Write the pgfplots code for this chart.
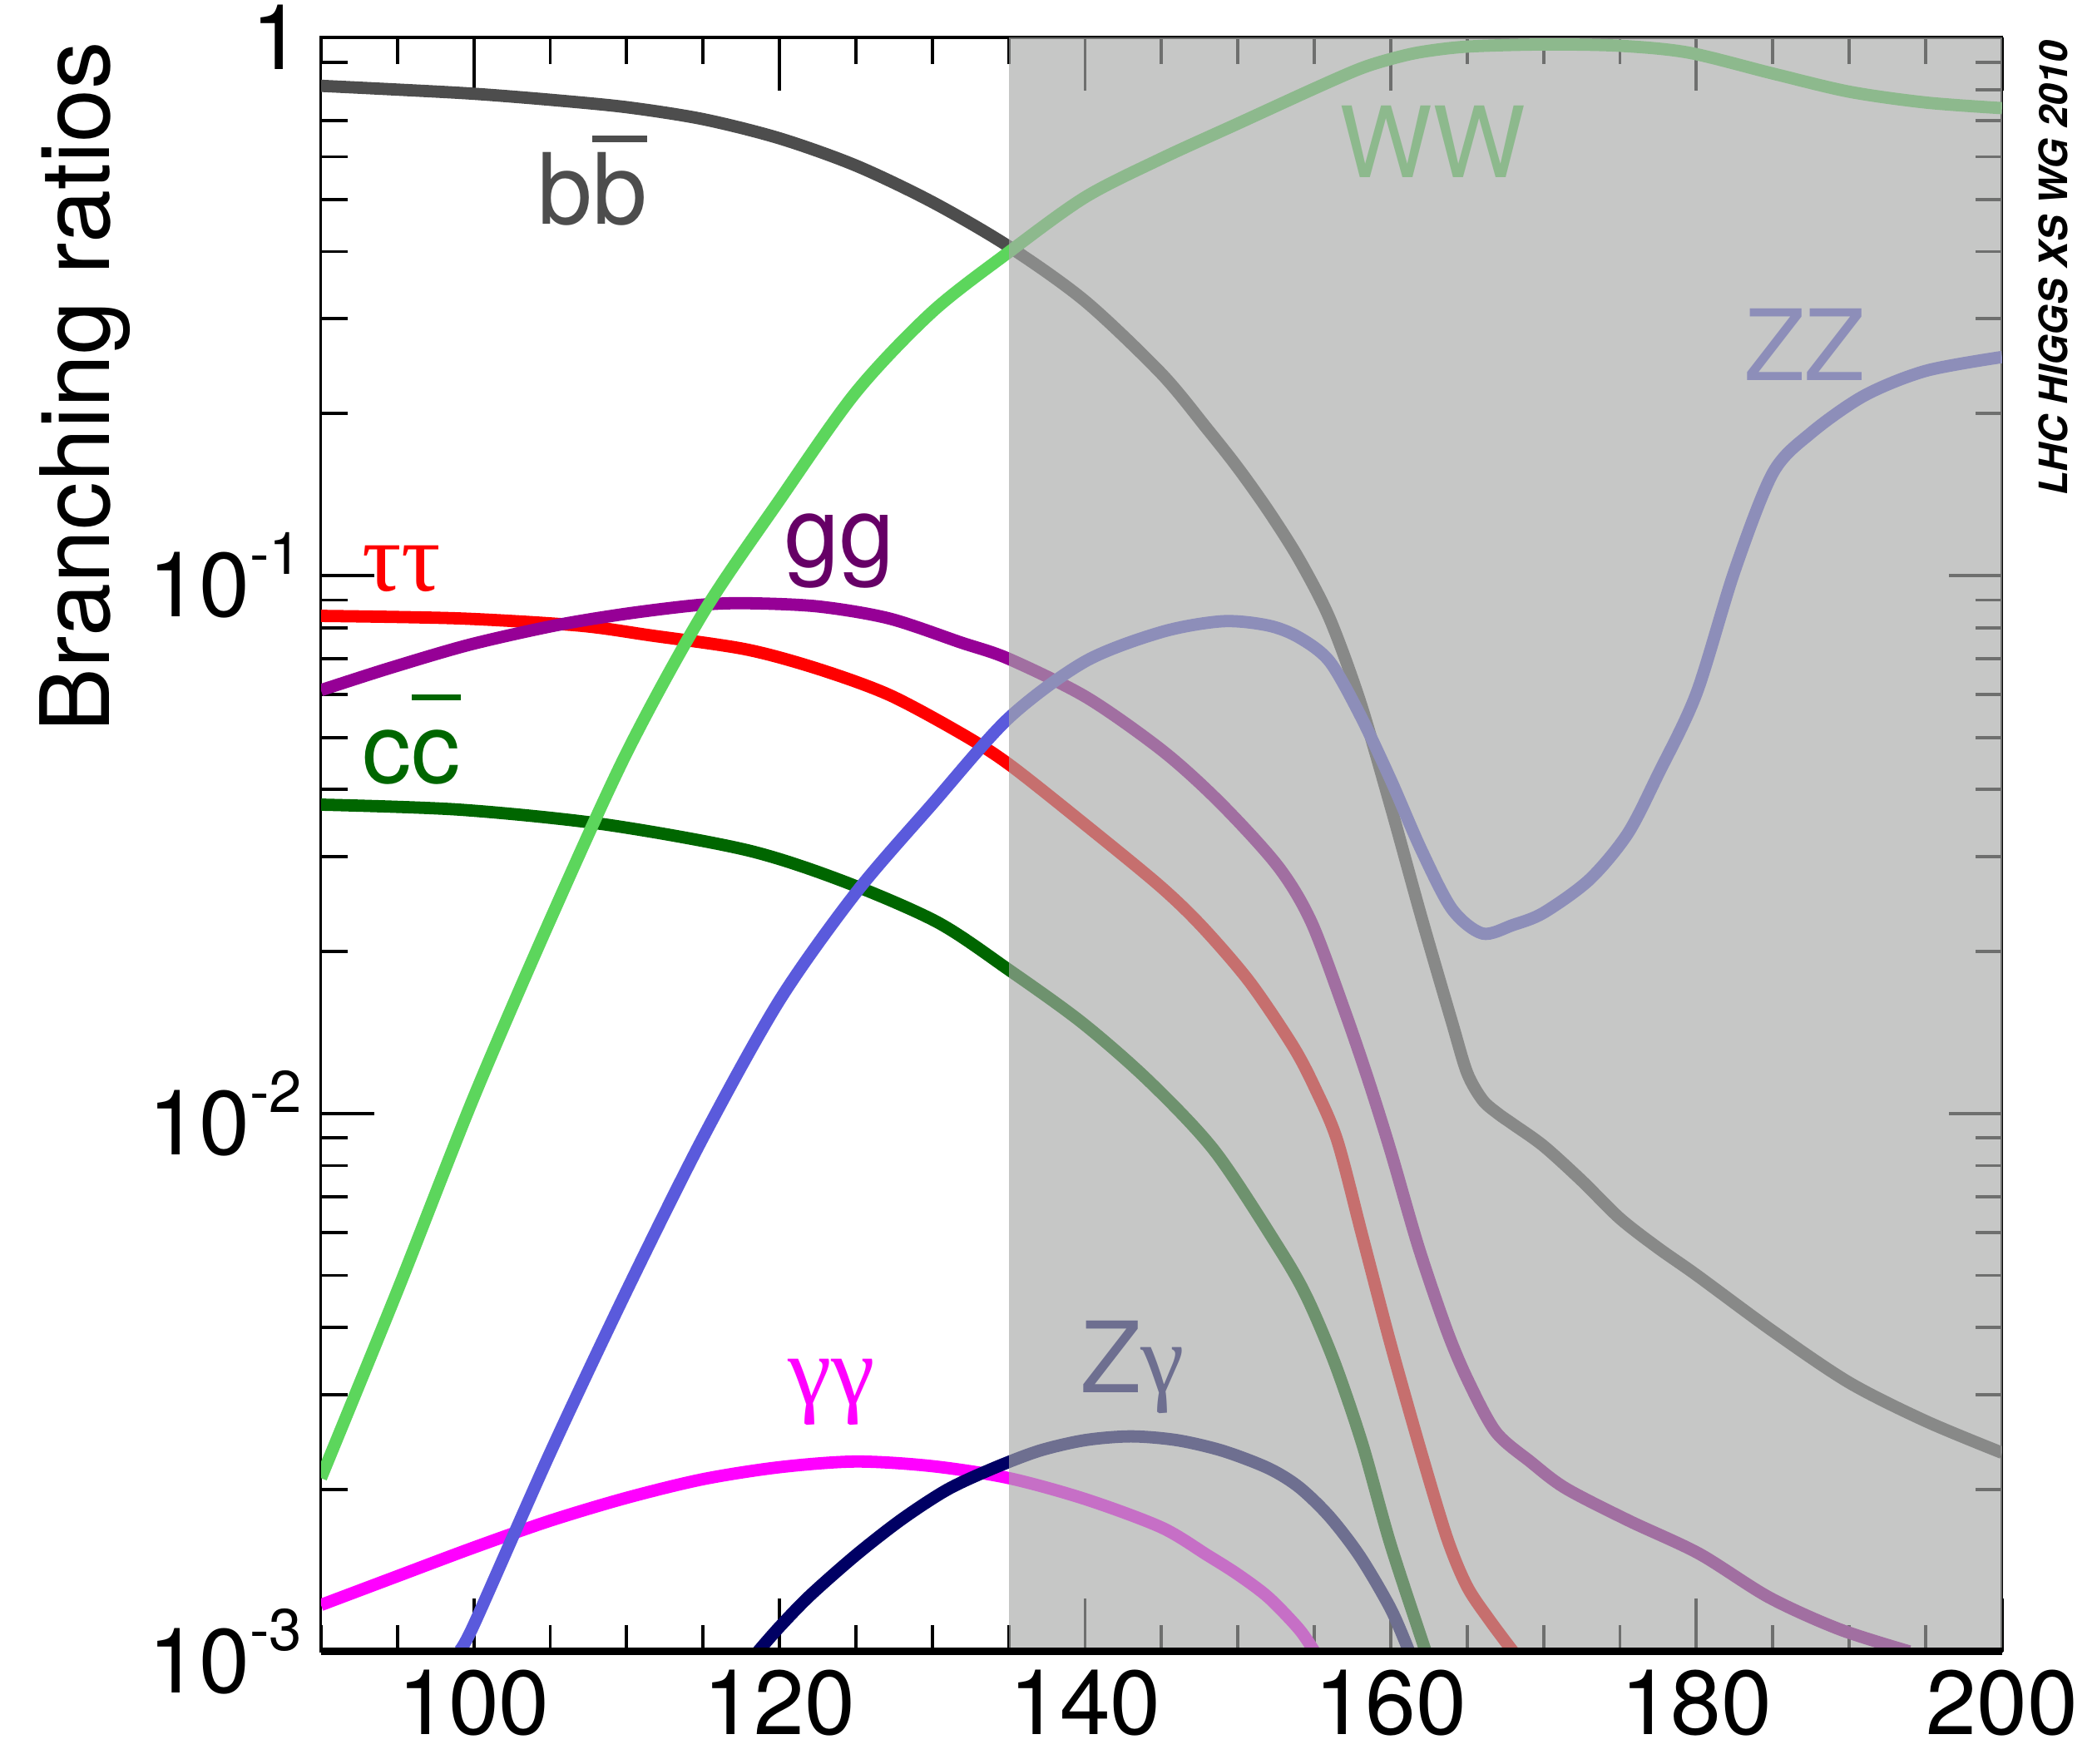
\documentclass[border=0pt]{standalone}
\usepackage{fontspec}
\setmainfont{TeX Gyre Heros}
\newfontfamily\greekfont{Liberation Serif}
\usepackage{pgfplots}
\pgfplotsset{compat=1.18}
\definecolor{cbb}{RGB}{77,77,77}
\definecolor{cww}{RGB}{92,214,92}
\definecolor{czz}{RGB}{90,90,220}
\definecolor{ctt}{RGB}{255,0,0}
\definecolor{cgg}{RGB}{150,0,150}
\definecolor{cgglab}{RGB}{102,0,102}
\definecolor{ccc}{RGB}{0,102,0}
\definecolor{cyy}{RGB}{255,0,255}
\definecolor{czy}{RGB}{0,0,100}
\definecolor{exclgray}{RGB}{168,170,168}
\newcommand\lab{\fontsize{18.4}{20}\selectfont}
\newcommand\tenpow[1]{10\raisebox{0.47em}{\fontsize{11}{11}\selectfont #1}}
\newcommand\ovl[1]{\setbox0\hbox{#1}\rlap{\rule[0.84em]{\wd0}{0.065em}}\box0}
\pgfplotsset{curve/.style={line width=2.3pt, no marks, smooth, tension=0.5}}
\begin{document}
\begin{tikzpicture}
\useasboundingbox (-60pt,-21pt) rectangle (332pt,308.75pt);
\begin{axis}[
  at={(0,0)}, anchor=south west,
  scale only axis, width=314.25pt, height=301.75pt,
  xmin=90, xmax=200, ymin=0.001, ymax=1, ymode=log, log basis y=10,
  xtick={100,120,...,200}, xticklabels={100,120,140,160,180,200},
  minor xtick={90,95,...,200},
  ytick={0.001,0.01,0.1,1}, yticklabels={\tenpow{-3},\tenpow{-2},\tenpow{-1},1},
  minor ytick={0.002,0.003,0.004,0.005,0.006,0.007,0.008,0.009,0.02,0.03,0.04,0.05,0.06,0.07,0.08,0.09,0.2,0.3,0.4,0.5,0.6,0.7,0.8,0.9},
  tick label style={font=\fontsize{17}{20}\selectfont},
  major tick length=10pt, minor tick length=5pt,
  tick style={black, line width=0.6pt},
  axis line style={line width=0.5pt},
  tick align=inside,
]
% b bbar
\addplot[curve, color=cbb] coordinates {(90,0.813)(95,0.800)(100,0.786)(105,0.766)(110,0.742)(115,0.705)(120,0.6495)(125,0.578)(130,0.4945)(135,0.4088)(140,0.3236)(145,0.2371)(148,0.1871)(150,0.1585)(152,0.1318)(154,0.1072)(156,0.0832)(158,0.0582)(160,0.0372)(162,0.0232)(164,0.0148)(165,0.0119)(166,0.0106)(167,0.0100)(168,0.00955)(170,0.0087)(172.5,0.0075)(175,0.00638)(177.5,0.00562)(180,0.00501)(185,0.00394)(190,0.00316)(195,0.00268)(200,0.00234)};
% tau tau
\addplot[curve, color=ctt] coordinates {(90,0.0841)(99.06,0.0832)(106.86,0.0807)(111.55,0.0774)(117.8,0.0729)(122.49,0.0671)(127.17,0.060)(131.86,0.0509)(135,0.0446)(139.8,0.0348)(144.81,0.0266)(147.62,0.0223)(150.74,0.0176)(153.56,0.0134)(155,0.01122)(156.5,0.00891)(158.16,0.00589)(160,0.00372)(162,0.00234)(163.7,0.00162)(165,0.00132)(166.5,0.00114)(168,0.001)};
% gg
\addplot[curve, color=cgg] coordinates {(90,0.0612)(94.37,0.0671)(99.68,0.0743)(105.3,0.0807)(109.99,0.0849)(114.66,0.0881)(117.8,0.0888)(122.49,0.0876)(127.17,0.0832)(131.86,0.0751)(135,0.070)(140.12,0.0593)(145.12,0.0471)(148.88,0.0377)(152.62,0.0288)(154.8,0.0227)(156.99,0.0155)(158.55,0.0115)(160,0.0085)(161.83,0.00563)(163.66,0.00396)(165.03,0.0032)(166.87,0.00256)(169.16,0.00225)(171.45,0.00201)(175.58,0.00175)(180.17,0.00152)(184.76,0.00126)(189.34,0.0011)(193.93,0.001)};
% c cbar
\addplot[curve, color=ccc] coordinates {(90,0.0375)(99.06,0.0367)(108.43,0.0345)(117.8,0.0309)(124.05,0.0271)(130.3,0.0227)(135,0.0185)(139.8,0.01475)(144.2,0.01147)(148.5,0.0085)(152.66,0.00563)(154.5,0.00456)(156.33,0.00344)(158.16,0.00242)(159.99,0.00158)(162.29,0.001)};
% gamma gamma
\addplot[curve, color=cyy] coordinates {(90,0.00122)(95,0.00138)(100,0.00156)(105,0.00175)(110,0.00193)(115,0.00209)(120,0.0022)(125,0.002254)(130,0.00221)(135,0.0021)(140,0.00192)(145,0.0017)(148,0.00151)(150,0.00139)(152,0.00126)(154,0.0011)(155,0.001)};
% Z gamma
\addplot[curve, color=czy] coordinates {(118.6,0.001)(120,0.00111)(122,0.00127)(125,0.00151)(128,0.00176)(131,0.002)(134,0.00219)(137,0.00236)(140,0.00247)(143,0.00251)(146,0.00247)(149,0.00236)(152,0.00219)(154,0.00202)(156,0.00178)(158,0.0015)(160,0.0012)(161.2,0.001)};
% WW
\addplot[curve, color=cww] coordinates {(90,0.0021)(95,0.00468)(100,0.01072)(105,0.0229)(110,0.0468)(115,0.0851)(120,0.138)(125,0.219)(130,0.309)(135,0.399)(140,0.5047)(145,0.5957)(150,0.6918)(155,0.8035)(158,0.875)(160,0.912)(162,0.9397)(165,0.9616)(170,0.9705)(175,0.965)(179.5,0.937)(185,0.857)(190,0.793)(195,0.757)(200,0.739)};
% ZZ
\addplot[curve, color=czz] coordinates {(99,0.001)(100,0.00112)(105,0.00234)(110,0.00468)(115,0.00902)(120,0.01622)(125,0.0257)(130,0.03758)(135,0.0543)(140,0.0692)(145,0.0785)(149,0.0822)(152,0.0807)(154,0.0767)(156,0.0692)(158,0.055)(160,0.0417)(162,0.0309)(164,0.024)(166,0.0216)(168,0.0224)(170,0.0236)(173,0.0272)(175.5,0.0331)(177.5,0.0427)(180,0.0603)(182.5,0.102)(185,0.155)(187.5,0.184)(191,0.216)(195,0.24)(200,0.2547)};
% curve labels
\node[anchor=base, text=cbb, font=\lab] at (axis cs:107.77,0.449) {b\ovl{b}};
\node[anchor=base, text=ccc, font=\lab] at (axis cs:95.93,0.0411) {c\ovl{c}};
\node[anchor=base, text=ctt, font=\lab\greekfont] at (axis cs:95.27,0.0937) {ττ};
\node[anchor=base, text=cgglab, font=\lab] at (axis cs:123.93,0.1037) {gg};
\node[anchor=base, text=cyy, font=\lab\greekfont] at (axis cs:123.39,0.00288) {γγ};
\node[anchor=base, text=czy, font=\lab] at (axis cs:143.1,0.00303) {Z{\greekfont γ}};
\node[anchor=base, text=cww, font=\lab] at (axis cs:162.75,0.5493) {WW};
\node[anchor=base, text=czz, font=\lab] at (axis cs:187.1,0.230) {ZZ};
% shaded excluded region
\fill[fill=exclgray, fill opacity=0.655] (axis cs:135,0.001) rectangle (axis cs:200,1);
\end{axis}
\draw[line width=1.4pt] (0,0) -- (314.25pt,0);
\node[rotate=90, anchor=base east, inner sep=0pt, font=\fontsize{17.9}{20}\selectfont] at (-39.5pt,301.25pt) {Branching ratios};
\node[rotate=90, anchor=base east, inner sep=0pt, font=\fontsize{7.3}{8}\selectfont\bfseries\itshape] at (326.5pt,301.25pt) {LHC HIGGS XS WG 2010};
\end{tikzpicture}
\end{document}
